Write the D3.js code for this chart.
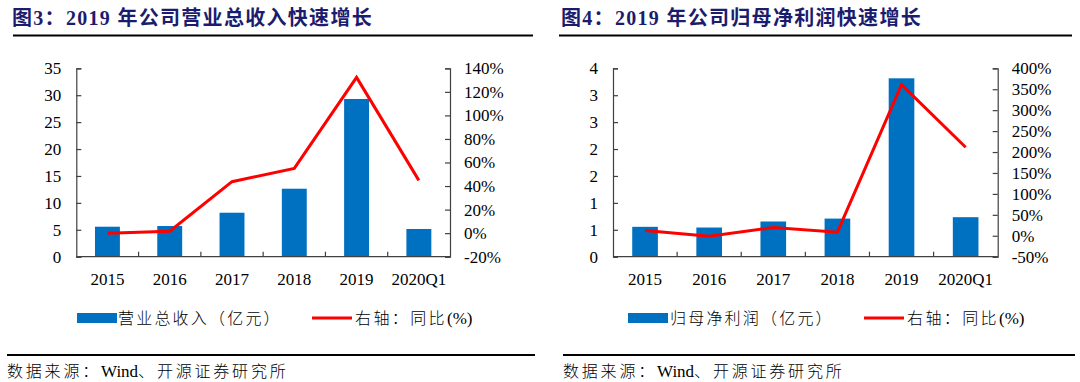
<!DOCTYPE html>
<html><head><meta charset="utf-8">
<script src="https://cdn.jsdelivr.net/npm/d3@7"></script>
<style>
html,body{margin:0;padding:0;background:#fff;}
svg{display:block;}
text{font-family:"Liberation Serif","Times New Roman","Noto Sans CJK SC",serif;}
</style></head>
<body>
<svg id="chart" width="1080" height="382"></svg>
<script>
const categories = ["2015","2016","2017","2018","2019","2020Q1"];
const revenue = [5.57, 5.70, 8.17, 12.63, 29.3, 5.15];
const revenueYoY = [0, 1.7, 43.7, 55, 132.3, 44.8];
const netProfit = [0.555, 0.542, 0.654, 0.708, 3.314, 0.734];
const netProfitYoY = [12.6, -1, 19.5, 8.5, 361, 211.5];
const leftTicksA = [0, 5, 10, 15, 20, 25, 30, 35];
const rightTicksA = [-20, 0, 20, 40, 60, 80, 100, 120, 140];
const leftTicksB = [0, 0.5, 1, 1.5, 2, 2.5, 3, 3.5];
const rightTicksB = [-50, 0, 50, 100, 150, 200, 250, 300, 350, 400];
const titles = ["图3：2019 年公司营业总收入快速增长", "图4：2019 年公司归母净利润快速增长"];
const barLegend = ["营业总收入（亿元）", "归母净利润（亿元）"];
const lineLegendParts = ["右轴：同比", "(%)"];
const sourceParts = ["数据来源：", "Wind", "、开源证券研究所"];

const svg = d3.select("#chart");
const BLUE = "#0070C0", RED = "#FF0000", NAVY = "#1c1c6e", AXIS = "#404040";

const panels = [
  {x0: 76.3, x1: 450, bars: revenue, line: revenueYoY, lt: leftTicksA, rt: rightTicksA,
   lfmt: d => d, rfmt: d => d + "%", title: titles[0], leg: barLegend[0],
   tx: 12, ul: [13, 533], bl: [7, 535], srcx: 7,
   legSw: 77, legTx: 118, legLine: 312, legLT: 355},
  {x0: 613, x1: 997.7, bars: netProfit, line: netProfitYoY, lt: leftTicksB, rt: rightTicksB,
   lfmt: d => Math.round(d), rfmt: d => d + "%", title: titles[1], leg: barLegend[1],
   tx: 561, ul: [559, 1072], bl: [563, 1075], srcx: 563,
   legSw: 628, legTx: 670, legLine: 864, legLT: 907}
];
const yTop = 68.3, yBot = 256.7;

panels.forEach(p => {
  const g = svg.append("g");
  // title
  g.append("text").attr("x", p.tx).attr("y", 25)
    .attr("font-size", 20).attr("font-weight", "bold").attr("fill", NAVY)
    .attr("letter-spacing", 1.3)
    .text(p.title);
  g.append("line").attr("x1", p.ul[0]).attr("x2", p.ul[1]).attr("y1", 35.5).attr("y2", 35.5)
    .attr("stroke", "#000").attr("stroke-width", 2);

  const x = d3.scaleBand().domain(categories).range([p.x0, p.x1]).paddingInner(0.6).paddingOuter(0.3);
  const xb = d3.scaleBand().domain(categories).range([p.x0, p.x1]);
  const yL = d3.scaleLinear().domain([p.lt[0], p.lt[p.lt.length - 1]]).range([yBot, yTop]);
  const yR = d3.scaleLinear().domain([p.rt[0], p.rt[p.rt.length - 1]]).range([yBot, yTop]);

  // bars
  g.selectAll("rect.bar").data(p.bars).enter().append("rect")
    .attr("x", (d, i) => x(categories[i]))
    .attr("width", x.bandwidth())
    .attr("y", d => yL(d))
    .attr("height", d => yL(0) - yL(d))
    .attr("fill", BLUE);

  // axes
  const axL = d3.axisLeft(yL).tickValues(p.lt).tickSize(-5).tickPadding(15).tickFormat(p.lfmt);
  const axR = d3.axisRight(yR).tickValues(p.rt).tickSize(-5).tickPadding(14).tickFormat(p.rfmt);
  const gl = g.append("g").attr("transform", `translate(${p.x0},0)`).call(axL);
  const gr = g.append("g").attr("transform", `translate(${p.x1},0)`).call(axR);
  [gl, gr].forEach(a => {
    a.select(".domain").attr("stroke", AXIS).attr("stroke-width", 1.2);
    a.selectAll(".tick line").attr("stroke", AXIS).attr("stroke-width", 1.2);
    a.selectAll("text").attr("font-size", 17).attr("fill", "#000")
      .attr("font-family", "'Liberation Serif','Times New Roman',serif");
  });
  // x axis
  const gx = g.append("g").attr("transform", `translate(0,${yBot})`);
  gx.append("line").attr("x1", p.x0).attr("x2", p.x1).attr("y1", 0).attr("y2", 0)
    .attr("stroke", AXIS).attr("stroke-width", 1.2);
  gx.selectAll("line.t").data(categories.slice(1)).enter().append("line")
    .attr("x1", d => xb(d)).attr("x2", d => xb(d)).attr("y1", 0).attr("y2", -5)
    .attr("stroke", AXIS).attr("stroke-width", 1.2);
  gx.selectAll("text").data(categories).enter().append("text")
    .attr("x", d => xb(d) + xb.bandwidth() / 2).attr("y", 28)
    .attr("text-anchor", "middle").attr("font-size", 17)
    .attr("font-family", "'Liberation Serif','Times New Roman',serif")
    .text(d => d);

  // line
  const lineGen = d3.line().x((d, i) => xb(categories[i]) + xb.bandwidth() / 2).y(d => yR(d));
  g.append("path").datum(p.line).attr("d", lineGen)
    .attr("fill", "none").attr("stroke", RED).attr("stroke-width", 3)
    .attr("stroke-linejoin", "miter");

  // legend
  g.append("rect").attr("x", p.legSw).attr("y", 313).attr("width", 40).attr("height", 10).attr("fill", BLUE);
  g.append("text").attr("x", p.legTx).attr("y", 323.5).attr("font-size", 16).attr("font-weight", 300)
    .attr("letter-spacing", 2.2).text(p.leg);
  g.append("line").attr("x1", p.legLine).attr("x2", p.legLine + 40).attr("y1", 318).attr("y2", 318)
    .attr("stroke", RED).attr("stroke-width", 3);
  const lt = g.append("text").attr("x", p.legLT).attr("y", 323.5).attr("font-size", 16).attr("font-weight", 300);
  lt.append("tspan").attr("letter-spacing", 2.4).text(lineLegendParts[0]);
  lt.append("tspan").attr("letter-spacing", 0).attr("font-size", 17).text(lineLegendParts[1]);

  // bottom line + source
  g.append("line").attr("x1", p.bl[0]).attr("x2", p.bl[1]).attr("y1", 355).attr("y2", 355)
    .attr("stroke", "#000").attr("stroke-width", 2);
  const st = g.append("text").attr("x", p.srcx).attr("y", 377).attr("font-size", 16).attr("font-weight", 300);
  st.append("tspan").attr("letter-spacing", 2.8).text(sourceParts[0]);
  st.append("tspan").attr("letter-spacing", 0).attr("font-size", 17).text(sourceParts[1]);
  st.append("tspan").attr("letter-spacing", 2.8).text(sourceParts[2]);
});
</script>
</body></html>
